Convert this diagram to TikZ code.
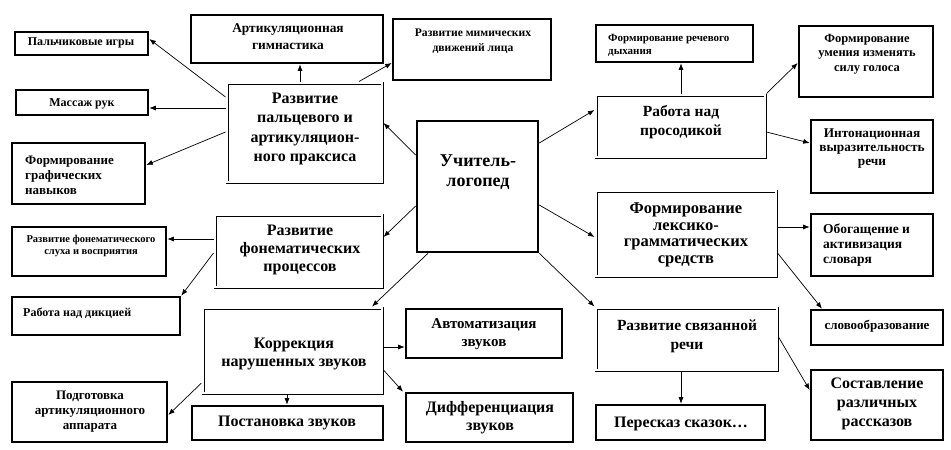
\documentclass[tikz,border=0pt]{standalone}
\usepackage{fontspec}
\setmainfont{Liberation Serif}
\usetikzlibrary{arrows.meta,calc}
\newcommand\bx[6]{\node[#2, minimum width={#5-#3}, minimum height={#6-#4}] (#1) at ({(#3+#5)/2},{(#4+#6)/2}) {};}
\begin{document}
\begin{tikzpicture}[x=1pt,y=-1pt,
  thickbox/.style={draw, line width=2.6pt, inner sep=0pt},
  dbl/.style={draw, double, double distance=1.4pt, line width=0.8pt, inner sep=0pt, outer sep=1.5pt},
  arr/.style={-{Latex[length=6.5pt,width=5pt]}, line width=0.7pt},
  lbl/.style={align=center, inner sep=0pt},
  fs/.style 2 args={font=\bfseries\fontsize{#1}{#2}\selectfont}]
\useasboundingbox[fill=white] (0,0) rectangle (951,450);
% boxes
\bx{pgry}{thickbox}{15}{32}{148}{55}
\bx{mass}{thickbox}{16}{90}{148}{115}
\bx{artg}{thickbox}{191}{15}{383}{63}
\bx{mim}{thickbox}{393}{19}{551}{80}
\bx{pal}{dbl}{227}{83}{382}{182}
\bx{graf}{thickbox}{12}{143}{145}{204}
\bx{uch}{thickbox}{417}{121}{538}{252}
\bx{fon}{dbl}{215}{215}{382}{287}
\bx{sluh}{thickbox}{12}{227}{166}{276}
\bx{dik}{thickbox}{12}{297}{180}{335}
\bx{kor}{dbl}{203}{308}{382}{393}
\bx{avt}{thickbox}{406}{309}{562}{358}
\bx{dif}{thickbox}{406}{393}{573}{442}
\bx{post}{thickbox}{192}{406}{383}{440}
\bx{podg}{thickbox}{12}{382}{167}{442}
\bx{pros}{dbl}{596}{95}{765}{157}
\bx{dyh}{thickbox}{596}{25}{753}{62}
\bx{um}{thickbox}{799}{26}{933}{97}
\bx{int}{thickbox}{811}{120}{933}{193}
\bx{lex}{dbl}{596}{191}{776}{276}
\bx{obog}{thickbox}{811}{214}{933}{276}
\bx{slov}{thickbox}{811}{310}{943}{345}
\bx{svr}{dbl}{596}{308}{777}{370}
\bx{per}{thickbox}{596}{405}{765}{440}
\bx{sost}{thickbox}{811}{370}{943}{440}
% labels
\node[lbl, fs={12}{14}] (tpgry) at (81,43) {Пальчиковые игры};
\node[lbl, fs={12}{14}] (tmass) at (82,104) {Массаж рук};
\node[lbl, fs={13.4}{17}] (tartg) at (288,37) {Артикуляционная\\гимнастика};
\node[lbl, fs={11.6}{15}] (tmim) at (473,41) {Развитие мимических\\движений лица};
\node[lbl, fs={16}{19.5}] (tpal) at (305,129) {Развитие\\пальцевого и\\артикуляцион-\\ного праксиса};
\node[lbl, fs={13}{15}, align=left, anchor=west] (tgraf) at (25,175) {Формирование\\графических\\навыков};
\node[lbl, fs={18}{20}] (tuch) at (478,172) {Учитель-\\логопед};
\node[lbl, fs={16}{18}] (tfon) at (300,250) {Развитие\\фонематических\\процессов};
\node[lbl, fs={10.5}{11.5}] (tsluh) at (91,246) {Развитие фонематического\\слуха и восприятия};
\node[lbl, fs={12}{14}, anchor=west] (tdik) at (23,313) {Работа над дикцией};
\node[lbl, fs={16}{18}] (tkor) at (294,354) {Коррекция\\нарушенных звуков};
\node[lbl, fs={15}{18}] (tavt) at (484,334) {Автоматизация\\звуков};
\node[lbl, fs={16}{18}] (tdif) at (490,418) {Дифференциация\\звуков};
\node[lbl, fs={16}{18}] (tpost) at (287,423) {Постановка звуков};
\node[lbl, fs={13}{15}] (tpodg) at (90,412) {Подготовка\\артикуляционного\\аппарата};
\node[lbl, fs={15.5}{19}] (tpros) at (681,122) {Работа над\\просодикой};
\node[lbl, fs={11}{13}, align=left, anchor=west] (tdyh) at (608,45) {Формирование речевого\\дыхания};
\node[lbl, fs={12.5}{14.5}] (tum) at (867,54) {Формирование\\умения изменять\\силу голоса};
\node[lbl, fs={13.3}{14}] (tint) at (872,149) {Интонационная\\выразительность\\речи};
\node[lbl, fs={16.5}{16.7}] (tlex) at (686,235) {Формирование\\лексико-\\грамматических\\средств};
\node[lbl, fs={13.5}{15}, align=left, anchor=west] (tobog) at (823,245) {Обогащение и\\активизация\\словаря};
\node[lbl, fs={13}{15}] (tslov) at (877,326) {словообразование};
\node[lbl, fs={15.5}{19}] (tsvr) at (687,336) {Развитие связанной\\речи};
\node[lbl, fs={16}{18}] (tper) at (681,424) {Пересказ сказок…};
\node[lbl, fs={16}{19}] (tsost) at (877,404) {Составление\\различных\\рассказов};
% arrows
\draw[arr] (pal.west |- 0,97) -- (pgry.east |- 0,39);
\draw[arr] (pal.west |- 0,108) -- (mass.east |- 0,108);
\draw[arr] (pal.west |- 0,132) -- (graf.east |- 0,165);
\draw[arr] (300,0 |- pal.north) -- (300,0 |- artg.south);
\draw[arr] (359,0 |- pal.north) -- (mim.west |- 0,63);
\draw[arr] (uch.west |- 0,155) -- (pal.east |- 0,123);
\draw[arr] (uch.west |- 0,206) -- (fon.east |- 0,237);
\draw[arr] (428,0 |- uch.south) -- (372,0 |- kor.north);
\draw[arr] (uch.east |- 0,143) -- (pros.west |- 0,110);
\draw[arr] (uch.east |- 0,205) -- (lex.west |- 0,237);
\draw[arr] (uch.south east) -- (svr.north west);
\draw[arr] (681,0 |- pros.north) -- (681,0 |- dyh.south);
\draw[arr] (pros.north east) -- (um.west |- 0,63);
\draw[arr] (pros.east |- 0,132) -- (int.west |- 0,143);
\draw[arr] (lex.east |- 0,227) -- (obog.west |- 0,227);
\draw[arr] (lex.east |- 0,253) -- (822,0 |- slov.north);
\draw[arr] (681,0 |- svr.south) -- (681,0 |- per.north);
\draw[arr] (svr.east |- 0,337) -- (sost.west |- 0,390);
\draw[arr] (fon.west |- 0,239) -- (sluh.east |- 0,239);
\draw[arr] (fon.west |- 0,253) -- (dik.north east);
\draw[arr] (kor.east |- 0,347) -- (avt.west |- 0,347);
\draw[arr] (kor.east |- 0,370) -- (403,0 |- dif.north);
\draw[arr] (287,0 |- kor.south) -- (287,0 |- post.north);
\draw[arr] (kor.west |- 0,383) -- (podg.east |- 0,415);
\end{tikzpicture}
\end{document}
